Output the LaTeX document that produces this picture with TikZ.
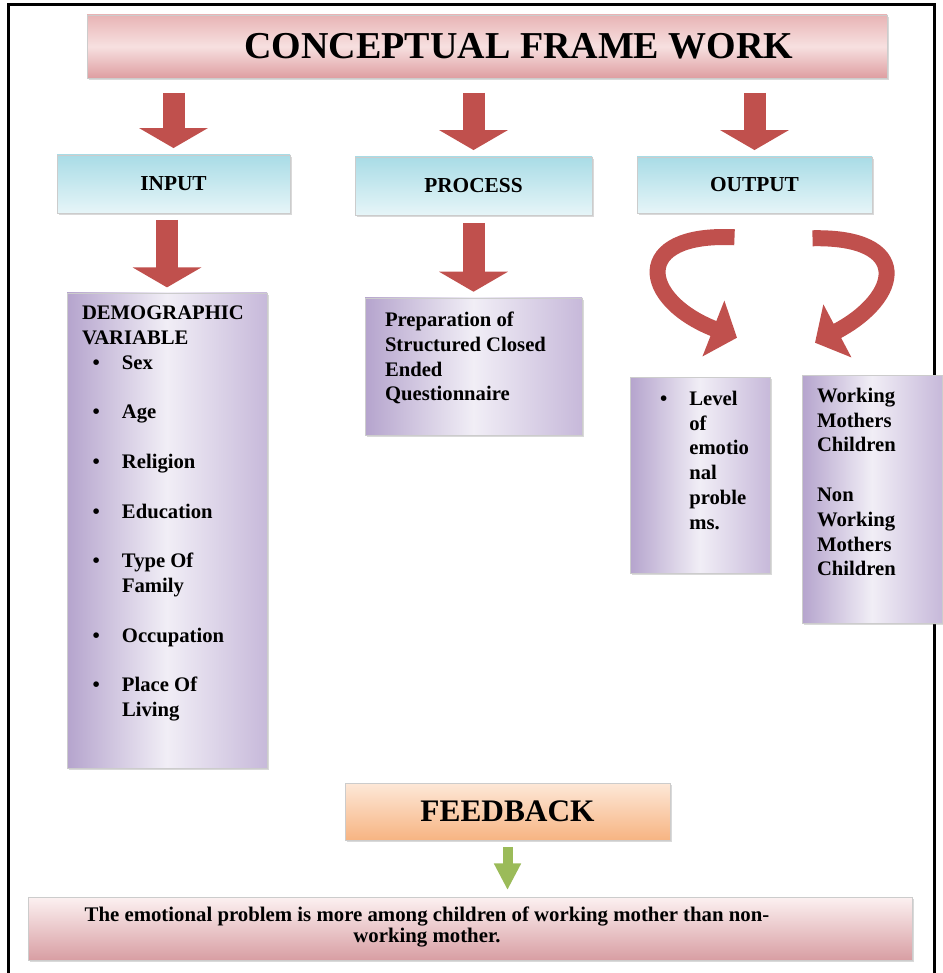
\documentclass[tikz,border=0pt]{standalone}
\usepackage{fontspec}
\setmainfont{Liberation Serif}
\usepackage{tikz}
\usetikzlibrary{arrows.meta,calc,shadows}
\definecolor{arrowred}{HTML}{C0504D}
\definecolor{titletop}{HTML}{E8B4B5}
\definecolor{titlemid}{HTML}{F7E0E0}
\definecolor{titlebot}{HTML}{DE9EA1}
\definecolor{cyantop}{HTML}{A9DCE6}
\definecolor{cyanbot}{HTML}{E6F5F8}
\definecolor{lavleft}{HTML}{B5A4CD}
\definecolor{lavmid}{HTML}{F1EEF6}
\definecolor{lavright}{HTML}{C7B9DA}
\definecolor{peachtop}{HTML}{FDE8D8}
\definecolor{peachbot}{HTML}{F7B482}
\definecolor{rosetop}{HTML}{FCF1F1}
\definecolor{rosebot}{HTML}{D89EA3}
\definecolor{leafgreen}{HTML}{9BBB59}
\newcommand\vbul{\hspace*{8pt}\makebox[22pt][l]{\textbullet}}

\begin{document}
\begin{tikzpicture}[x=0.75pt,y=-0.75pt,
    box/.style={draw=gray!40,line width=0.4pt,inner sep=0pt,
        drop shadow={opacity=0.3,shadow xshift=1.5pt,shadow yshift=-1.5pt}},
    titlebox/.style={box,top color=titletop,bottom color=titlebot,middle color=titlemid,
        font=\fontsize{28.5}{34}\selectfont\bfseries},
    headbox/.style={box,top color=cyantop,bottom color=cyanbot,font=\fontsize{16}{19}\selectfont\bfseries},
    lavbox/.style={box,left color=lavleft,right color=lavright,middle color=lavmid},
    txt/.style={inner sep=0pt,anchor=north west,align=left,font=\fontsize{15.5}{18.6}\selectfont\bfseries},
    redarrow/.style={arrowred,line width=16.5pt,-{Triangle[width=51pt,length=15pt]}},
    curvearrow/.style={arrowred,line width=12pt,-{Triangle[width=44pt,length=19pt]}}]
    \useasboundingbox (0,0) rectangle (942,973);
    \draw[line width=2.25pt] (8,985) -- (8,5) -- (934,5) -- (934,985);

    \node[titlebox,minimum width=600pt,minimum height=47.25pt] (title) at (487,46.5)
        {\hspace*{48pt}CONCEPTUAL FRAME WORK};
    \node[headbox,minimum width=174.75pt,minimum height=43.5pt] (input) at (173.5,184) {INPUT};
    \node[headbox,minimum width=177.75pt,minimum height=43.5pt] (process) at (473.5,186) {PROCESS};
    \node[headbox,minimum width=176.25pt,minimum height=42pt] (output) at (754.5,185) {OUTPUT};

    \node[lavbox,minimum width=150pt,minimum height=356.25pt] (demo) at (167,530.5) {};
    \node[lavbox,minimum width=162.75pt,minimum height=102.75pt] (prep) at (473.5,366.5) {};
    \node[lavbox,minimum width=105pt,minimum height=147pt] (level) at (700,475) {};
    \node[lavbox,minimum width=105pt,minimum height=186pt] (working) at (872,499) {};

    \node[txt] (demotxt) at ($(demo.north west)+(15,13)$) {DEMOGRAPHIC\\VARIABLE\\
        \vbul Sex\\[18.6pt]
        \vbul Age\\[18.6pt]
        \vbul Religion\\[18.6pt]
        \vbul Education\\[18.6pt]
        \vbul Type Of\\
        \hspace*{30pt}Family\\[18.6pt]
        \vbul Occupation\\[18.6pt]
        \vbul Place Of\\
        \hspace*{30pt}Living};
    \node[txt] (preptxt) at ($(prep.north west)+(20,14)$)
        {Preparation of\\Structured Closed\\Ended\\Questionnaire};
    \node[txt] (leveltxt) at ($(level.north west)+(30,14)$)
        {\makebox[22pt][l]{\textbullet}Level\\\hspace*{22pt}of\\\hspace*{22pt}emotio\\
         \hspace*{22pt}nal\\\hspace*{22pt}proble\\\hspace*{22pt}ms.};
    \node[txt] (workingtxt) at ($(working.north west)+(15,13)$)
        {Working\\Mothers\\Children\\[18.6pt]Non\\Working\\Mothers\\Children};

    \node[box,top color=peachtop,bottom color=peachbot,minimum width=243.75pt,minimum height=42.75pt,
        font=\fontsize{23.5}{28}\selectfont\bfseries] (feedback) at (507.5,811.5) {FEEDBACK};
    \node[box,top color=rosetop,bottom color=rosebot,minimum width=663pt,minimum height=47.25pt]
        (result) at (470,928.5) {};
    \node[inner sep=0pt,align=center,font=\fontsize{15.6}{16}\selectfont\bfseries] (resulttxt) at (427,927)
        {The emotional problem is more among children of working mother than non-\\working mother.};

    \draw[redarrow,shorten <=11pt,shorten >=5pt] (title.south -| input.north) -- (input.north);
    \draw[redarrow,shorten <=11pt,shorten >=5pt] (title.south -| process.north) -- (process.north);
    \draw[redarrow,shorten <=11pt,shorten >=5pt] (title.south -| output.north) -- (output.north);
    \draw[redarrow,shorten <=5pt,shorten >=4pt] (input.south -| demo.north) -- (demo.north);
    \draw[redarrow,shorten <=6pt,shorten >=4.5pt] (process.south -| prep.north) -- (prep.north);

    \coordinate (ls) at ($(output.south)+(-20,24)$);
    \coordinate (le) at ($(level.north)+(37,-39)$);
    \coordinate (rs) at ($(output.south)+(58,25)$);
    \coordinate (re) at ($(working.north)+(-57,-32)$);
    \draw[curvearrow] (ls) .. controls ($(ls)+(-104,-5)$) and ($(le)+(-97,-38)$) .. (le);
    \draw[curvearrow] (rs) .. controls ($(rs)+(100,-2)$) and ($(re)+(87,-46)$) .. (re);

    \draw[leafgreen,line width=7.5pt,-{Triangle[width=19pt,length=20pt]},shorten <=5pt,shorten >=5pt]
        (feedback.south) -- (feedback.south |- result.north);
\end{tikzpicture}
\end{document}
